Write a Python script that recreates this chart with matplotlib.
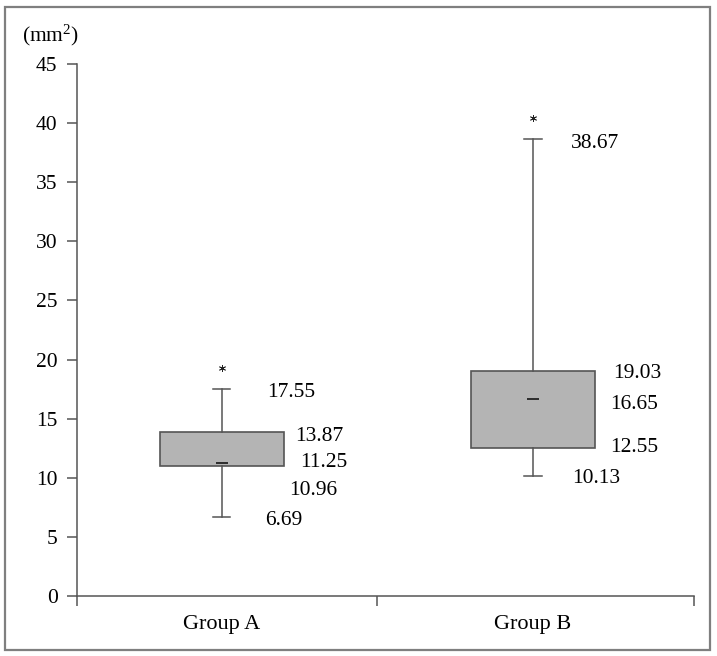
import matplotlib
matplotlib.use("Agg")
import matplotlib.pyplot as plt
from matplotlib.patches import Rectangle

groups = ["Group A", "Group B"]
q1 = [10.96, 12.55]
median = [11.25, 16.65]
q3 = [13.87, 19.03]
whislo = [6.69, 10.13]
whishi = [17.55, 38.67]
outliers = [[19.3], [40.4]]
yticks = [0, 5, 10, 15, 20, 25, 30, 35, 40, 45]

plt.rcParams['font.family'] = ['Liberation Serif', 'DejaVu Serif']
plt.rcParams['mathtext.fontset'] = 'custom'
plt.rcParams['mathtext.rm'] = 'Liberation Serif'
plt.rcParams['mathtext.it'] = 'Liberation Serif:italic'

fig = plt.figure(figsize=(7.17, 6.56), dpi=100)
ax = fig.add_axes([0.1074, 0.0915, 0.8606, 0.8109])

stats = []
for i in range(len(groups)):
    stats.append(dict(med=median[i], q1=q1[i], q3=q3[i], whislo=whislo[i],
                      whishi=whishi[i], fliers=outliers[i], label=groups[i]))

pos = [1, 2]
ax.bxp(stats, positions=pos, widths=0.4, patch_artist=True, showfliers=True,
       boxprops=dict(facecolor='#b4b4b4', edgecolor='#555555', linewidth=1.2),
       whiskerprops=dict(color='#555555', linewidth=1.1),
       capprops=dict(color='#555555', linewidth=1.1),
       medianprops=dict(linewidth=0),
       flierprops=dict(marker=(6, 2, 0), markersize=5, markeredgecolor='#222222',
                       markeredgewidth=0.6, linestyle='none'),
       capwidths=0.055)
# short median dash
ax.plot(pos, median, linestyle='none', marker='_', markersize=9,
        markeredgewidth=1.3, color='#222222', zorder=5)

# value labels (text positions are layout only)
label_pos_A = [(1.145, 17.2), (1.235, 13.45), (1.251, 11.25), (1.215, 8.95), (1.138, 6.35)]
label_pos_B = [(2.122, 38.3), (2.257, 18.85), (2.248, 16.2), (2.248, 12.6), (2.125, 9.9)]
vals_A = [whishi[0], q3[0], median[0], q1[0], whislo[0]]
vals_B = [whishi[1], q3[1], median[1], q1[1], whislo[1]]
for (x, y), v in zip(label_pos_A, vals_A):
    ax.text(x, y, f"{v:.2f}", fontsize=15.5, ha='left', va='center')
for (x, y), v in zip(label_pos_B, vals_B):
    ax.text(x, y, f"{v:.2f}", fontsize=15.5, ha='left', va='center')

x0, x1 = 0.534, 2.518
ax.set_xlim(x0, x1)
ax.set_ylim(0, 45)
ax.set_yticks(yticks)
ax.set_yticklabels([str(t) for t in yticks], fontsize=15.5)
ax.set_xticks([x0, 1.5, x1])
ax.set_xticklabels(["", "", ""])
ax.set_xticks(pos, minor=True)
ax.set_xticklabels(groups, minor=True, fontsize=16)
ax.tick_params(axis='x', which='minor', length=0, pad=14)
ax.tick_params(axis='x', which='major', length=7, width=1.1, color='#555555', direction='out')
ax.tick_params(axis='y', length=7, width=1.1, color='#555555', direction='out', pad=7)

for s in ['top', 'right']:
    ax.spines[s].set_visible(False)
for s in ['left', 'bottom']:
    ax.spines[s].set_color('#555555')
    ax.spines[s].set_linewidth(1.1)

fig.text(22 / 717, 1 - 35 / 656, "(mm$^2$)", fontsize=15.5, ha='left', va='center')

# outer frame
fig.patches.append(Rectangle((5 / 717, 6 / 656), 705 / 717, 643 / 656,
                             transform=fig.transFigure, fill=False,
                             edgecolor='#7f7f7f', linewidth=1.6))

fig.savefig("out.png", dpi=100)
